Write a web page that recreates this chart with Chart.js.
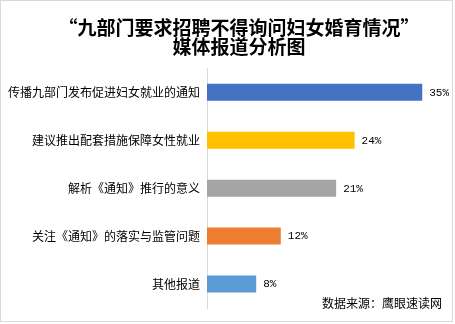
<!DOCTYPE html>
<html><head><meta charset="utf-8">
<script src="https://cdn.jsdelivr.net/npm/chart.js@4/dist/chart.umd.min.js"></script>
<style>html,body{margin:0;padding:0;background:#fff}#wrap{width:455px;height:324px;position:relative}</style>
</head><body><div id="wrap"><canvas id="c" width="455" height="324"></canvas></div>
<script>
const titleLines = ['“九部门要求招聘不得询问妇女婚育情况”', '媒体报道分析图'];
const categories = ['传播九部门发布促进妇女就业的通知', '建议推出配套措施保障女性就业', '解析《通知》推行的意义', '关注《通知》的落实与监管问题', '其他报道'];
const values = [35, 24, 21, 12, 8];
const barColors = ['#4472C4', '#FFC000', '#A5A5A5', '#ED7D31', '#5B9BD5'];
const sourceText = '数据来源：鹰眼速读网';

const CJK = '"Noto Sans CJK SC", "Noto Sans", sans-serif';

const extras = {
  id: 'extras',
  afterDatasetsDraw(chart) {
    const ctx = chart.ctx;
    const meta = chart.getDatasetMeta(0);
    ctx.save();
    ctx.fillStyle = '#000';
    ctx.textBaseline = 'middle';
    ctx.textAlign = 'center';
    ctx.font = 'bold 19px ' + CJK;
    ctx.fillText(titleLines[0], 239, 28);
    ctx.fillText(titleLines[1], 239, 46.5);
    ctx.font = '11px "Liberation Mono", "DejaVu Sans Mono", monospace';
    ctx.textAlign = 'left';
    meta.data.forEach((bar, i) => {
      ctx.fillText(values[i] + '%', bar.x + 7, bar.y + 0.5);
    });
    ctx.font = '12px ' + CJK;
    ctx.textAlign = 'right';
    ctx.fillText(sourceText, 442, 303);
    ctx.strokeStyle = '#d9d9d9';
    ctx.lineWidth = 1;
    ctx.strokeRect(0.5, 0.5, 452, 321);
    ctx.restore();
  }
};

new Chart(document.getElementById('c'), {
  type: 'bar',
  data: {
    labels: categories,
    datasets: [{ data: values, backgroundColor: barColors, barPercentage: 0.71, categoryPercentage: 0.5 }]
  },
  options: {
    indexAxis: 'y',
    responsive: false,
    animation: false,
    layout: { padding: { left: 0, right: 2, top: 68.3, bottom: 16 } },
    plugins: {
      legend: { display: false },
      tooltip: { enabled: false },
      title: { display: false }
    },
    scales: {
      x: { display: false, min: 0, max: 40 },
      y: {
        afterFit(scale) { scale.width = 207; },
        grid: { display: false, drawTicks: false },
        border: { display: true, color: '#d9d9d9', width: 1 },
        ticks: { color: '#000', padding: 7, font: { family: CJK, size: 12 } }
      }
    }
  },
  plugins: [extras]
});
</script></body></html>
